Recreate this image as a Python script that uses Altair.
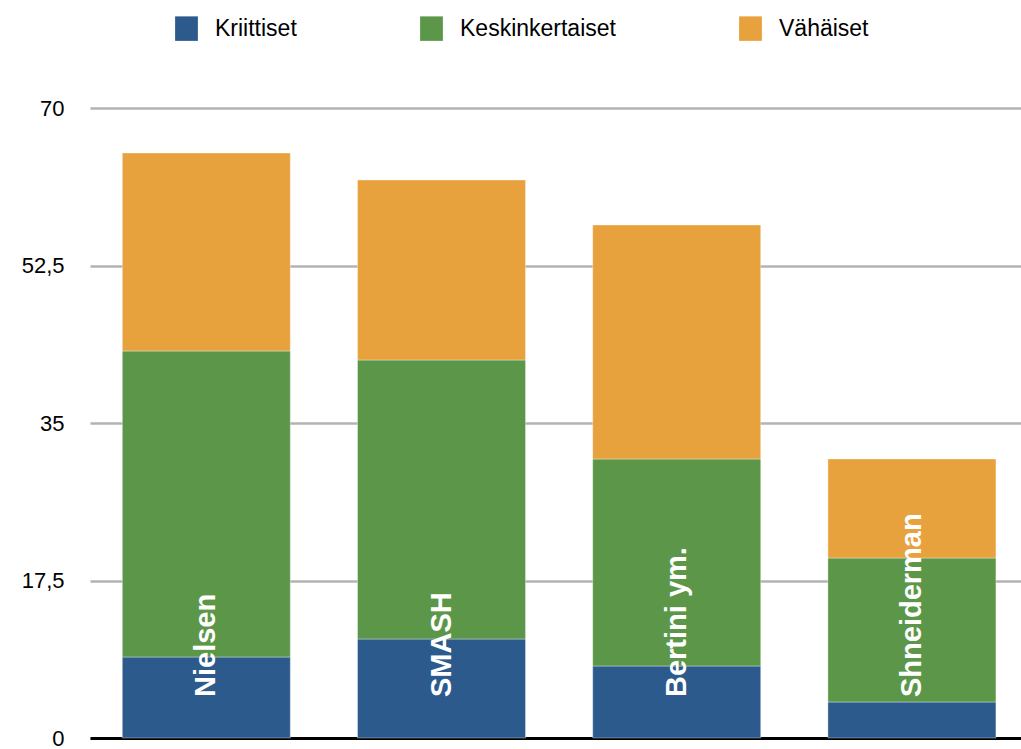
import altair as alt
import pandas as pd

categories = ["Nielsen", "SMASH", "Bertini ym.", "Shneiderman"]
series_names = ["Kriittiset", "Keskinkertaiset", "Vähäiset"]
kriittiset = [9, 11, 8, 4]
keskinkertaiset = [34, 31, 23, 16]
vahaiset = [22, 20, 26, 11]
y_ticks = [0, 17.5, 35, 52.5, 70]
colors = ["#2c5a8c", "#5c9749", "#e7a23d"]

rows = []
for i, c in enumerate(categories):
    for k, (name, vals) in enumerate(zip(series_names, [kriittiset, keskinkertaiset, vahaiset])):
        rows.append({"kategoria": c, "sarja": name, "arvo": vals[i], "jarjestys": k})
df = pd.DataFrame(rows)
labels_df = pd.DataFrame({"kategoria": categories})

FONT = "Liberation Sans"

x_scale = alt.Scale(paddingInner=0.2857, paddingOuter=0.122, align=0.563)
x_axis = alt.Axis(title=None, labels=False, ticks=False, domain=True,
                  domainColor="#000000", domainWidth=3, grid=False)

bars = alt.Chart(df).mark_bar(stroke="white", strokeOpacity=0.35, strokeWidth=1).encode(
    x=alt.X("kategoria:N", sort=categories, scale=x_scale, axis=x_axis),
    y=alt.Y(
        "arvo:Q",
        stack="zero",
        scale=alt.Scale(domain=[0, 70], nice=False, zero=True),
        axis=alt.Axis(
            title=None,
            values=y_ticks,
            domain=False,
            ticks=False,
            grid=True,
            gridColor="#b3b3b3",
            gridWidth=2.5,
            labelPadding=26,
            labelFontSize=22,
            labelColor="#000000",
            labelFont=FONT,
            labelExpr="replace(format(datum.value, '.1~f'), '.', ',')",
        ),
    ),
    color=alt.Color(
        "sarja:N",
        sort=series_names,
        scale=alt.Scale(domain=series_names, range=colors),
        legend=alt.Legend(
            title=None,
            orient="none",
            direction="horizontal",
            legendX=84,
            legendY=-92,
            symbolType="M-0.93,-1L0.93,-1L0.93,1L-0.93,1Z",
            symbolSize=600,
            symbolStrokeWidth=0,
            symbolOpacity=1,
            labelFontSize=23,
            labelFont=FONT,
            labelColor="#000000",
            labelOffset=16,
            columnPadding=122,
            padding=0,
        ),
    ),
    order=alt.Order("jarjestys:Q", sort="ascending"),
)

texts = alt.Chart(labels_df).mark_text(
    angle=270,
    align="left",
    baseline="middle",
    color="white",
    fontSize=29,
    fontWeight="bold",
    font=FONT,
).encode(
    x=alt.X("kategoria:N", sort=categories, scale=x_scale, axis=x_axis),
    y=alt.value(589),
    text="kategoria:N",
)

chart = (
    alt.layer(bars, texts)
    .properties(
        width=931,
        height=630,
        background="white",
        autosize=alt.AutoSizeParams(type="none"),
        padding={"left": 90, "top": 108, "right": 0, "bottom": 11},
    )
    .configure_view(strokeWidth=0)
    .configure_axisY(domain=False, ticks=False)
)

chart.save("out.html", embed_options={"renderer": "svg", "actions": False})
